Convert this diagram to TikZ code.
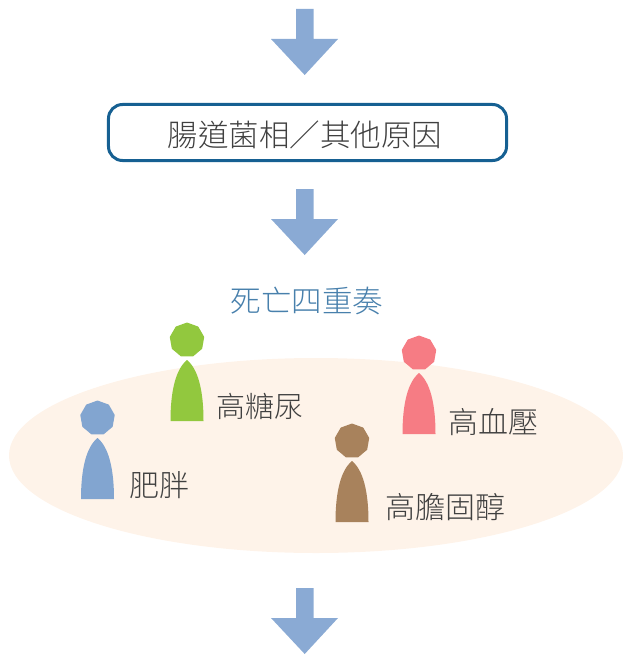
\documentclass[tikz,border=0pt]{standalone}
\usepackage{fontspec}
\setmainfont{Noto Sans CJK TC Light}
\usetikzlibrary{positioning,shapes.geometric}
\definecolor{arrowblue}{RGB}{138,170,212}
\definecolor{framecol}{RGB}{22,96,146}
\definecolor{titlecol}{RGB}{72,128,172}
\definecolor{ovalcol}{RGB}{254,243,233}
\definecolor{textcol}{RGB}{64,64,64}
\definecolor{fatcol}{RGB}{130,165,208}
\definecolor{sugarcol}{RGB}{146,200,62}
\definecolor{presscol}{RGB}{246,124,132}
\definecolor{cholcol}{RGB}{168,130,92}
\tikzset{
  x=1bp, y=-1bp,
  lbl/.style={text=textcol, font=\fontsize{30bp}{30bp}\selectfont, inner sep=0pt},
  biglbl/.style={lbl, font=\fontsize{30.5bp}{30.5bp}\selectfont},
  headshape/.style={regular polygon, regular polygon sides=9, inner sep=0pt, minimum size=35bp, fill=#1},
}
% arrow pointing down, #1 = y of its top edge
\newcommand{\downarrowshape}[1]{%
  \fill[arrowblue] (296,#1) -- (313.5,#1) -- (313.5,#1+30) -- (338,#1+30) -- (304.7,#1+66)
     -- (271,#1+30) -- (296,#1+30) -- cycle;}
% person: name, head x, head y, colour
\newcommand{\person}[4]{%
  \node[headshape=#4] (#1) at (#2,#3) {};
  \fill[#4] (#2-16.5,#3+81) .. controls (#2-16.5,#3+50) and (#2-11,#3+29) .. (#2,#3+20)
     .. controls (#2+11,#3+29) and (#2+16.5,#3+50) .. (#2+16.5,#3+81) -- cycle;}
\begin{document}
\begin{tikzpicture}
\useasboundingbox (0,0) rectangle (623,657);
% Arrows
\downarrowshape{9}
\downarrowshape{189}
\downarrowshape{588}
% Oval
\fill[ovalcol] (316,455.5) ellipse (307 and 97.5);
% Box
\node[draw=framecol, line width=3bp, rounded corners=14bp, minimum width=398bp, minimum height=56bp] (box) at (307.5,132.5) {};
\node[biglbl] (boxtext) at (305,135) {腸道菌相／其他原因};
\node[biglbl, text=titlecol] (title) at (307,301) {死亡四重奏};
% People
\person{sugarhead}{187}{340}{sugarcol}
\person{fathead}{97.5}{418}{fatcol}
\person{presshead}{419}{353}{presscol}
\person{cholhead}{352}{441}{cholcol}
% Labels
\node[lbl, font=\fontsize{29bp}{29bp}\selectfont] (sugar) at (259.5,406) {高糖尿};
\node[lbl] (fat) at (159.5,485) {肥胖};
\node[lbl] (press) at (493,422) {高血壓};
\node[lbl] (chol) at (445,507) {高膽固醇};
\end{tikzpicture}
\end{document}
